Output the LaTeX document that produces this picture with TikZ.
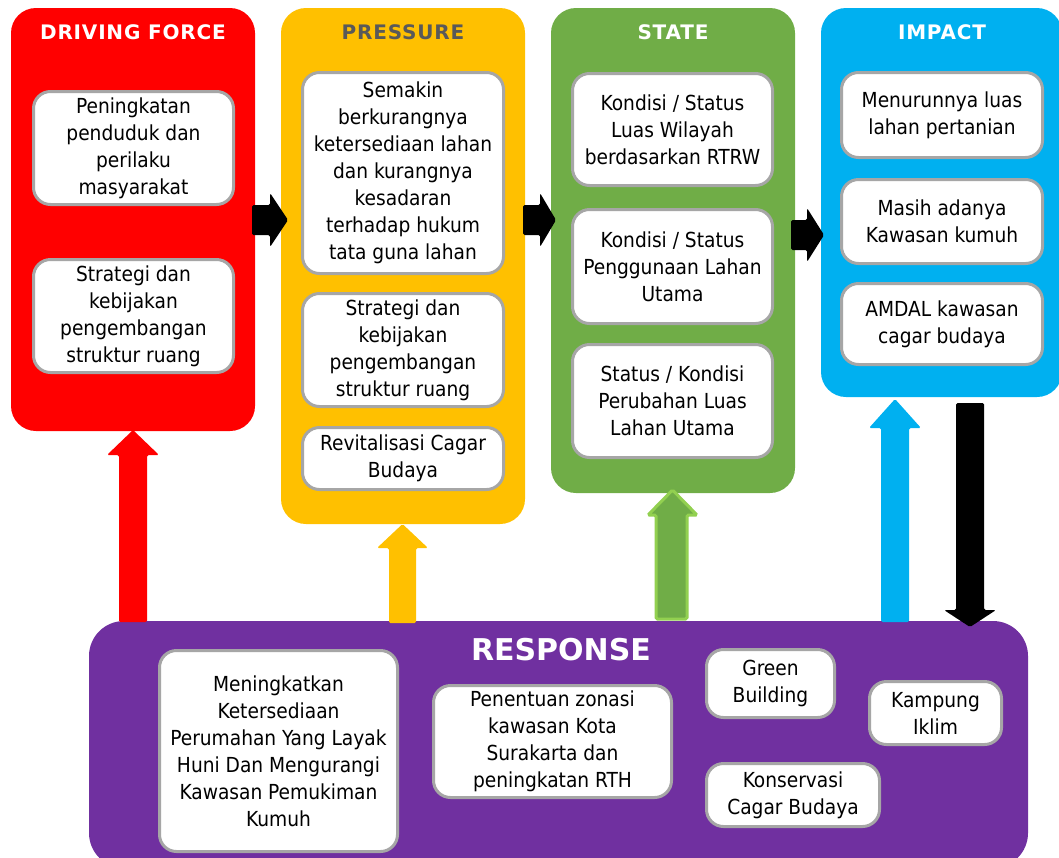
\documentclass[tikz,border=0pt]{standalone}
\usepackage{fontspec}
\setmainfont{DejaVu Sans Condensed}
\newfontfamily\headfont{DejaVu Sans}[LetterSpace=4]
\newfontfamily\respfont{DejaVu Sans}
\definecolor{cred}{HTML}{FF0000}
\definecolor{cyel}{HTML}{FFC000}
\definecolor{cgrn}{HTML}{70AD47}
\definecolor{cgrnl}{HTML}{92D050}
\definecolor{cblu}{HTML}{00B0F0}
\definecolor{cpur}{HTML}{7030A0}
\definecolor{boxgray}{HTML}{A6A6A6}
\definecolor{hgray}{HTML}{595959}
\tikzset{
  panel/.style={rounded corners=25pt},
  ibox/.style={draw=boxgray, line width=3pt, fill=white, rounded corners=17pt, align=center, inner sep=0pt, font=\fontsize{20.7}{27}\selectfont},
  hdr/.style={font=\headfont\bfseries\fontsize{20}{24}\selectfont, text=white, inner sep=0pt},
  blockarrow/.style={rounded corners=1.5pt}
}
\begin{document}
\begin{tikzpicture}[x=1pt,y=-1pt]
\useasboundingbox (0,0) rectangle (1059,857);
% panels
\fill[cred, panel] (11,8) rectangle (255,431);
\fill[cyel, panel] (281,8) rectangle (525,524);
\fill[cgrn, panel] (551,8) rectangle (795,493);
\fill[cblu, panel] (821,8) rectangle (1062,397);
\fill[cpur, rounded corners=35pt] (89,621) rectangle (1028,868);
% headers
\node[hdr] (hdf) at (133,32) {DRIVING FORCE};
\node[hdr, text=hgray] (hpr) at (403,32) {PRESSURE};
\node[hdr] (hst) at (673,32) {STATE};
\node[hdr] (him) at (942,32) {IMPACT};
\node[font=\respfont\bfseries\fontsize{30}{34}\selectfont, text=white, inner sep=0pt] (hre) at (561,650) {RESPONSE};
% horizontal arrows
\fill[black, blockarrow] (252,205) -- (270,205) -- (270,193) -- (288,220) -- (270,247) -- (270,235) -- (252,235) -- cycle;
\fill[black, blockarrow] (523,205) -- (540,205) -- (540,193) -- (556,220) -- (540,247) -- (540,235) -- (523,235) -- cycle;
\fill[black, blockarrow] (791,220) -- (807,220) -- (807,208) -- (824,235) -- (807,262) -- (807,250) -- (791,250) -- cycle;
% vertical arrows
\fill[cred, blockarrow] (119,622) -- (119,455) -- (107,455) -- (133,430) -- (159,455) -- (147,455) -- (147,622) -- cycle;
\fill[cyel, blockarrow] (389,623) -- (389,548) -- (377,548) -- (402.5,524) -- (428,548) -- (416,548) -- (416,623) -- cycle;
\filldraw[fill=cgrn, draw=cgrnl, line width=3pt, blockarrow] (656,619) -- (656,515) -- (648,515) -- (672.5,490) -- (697,515) -- (687,515) -- (687,619) -- cycle;
\fill[cblu, blockarrow] (881,622) -- (881,428) -- (869,428) -- (895,399) -- (921,428) -- (909,428) -- (909,622) -- cycle;
\fill[black, blockarrow] (956,403) -- (956,610) -- (944,610) -- (970,627) -- (996,610) -- (984,610) -- (984,403) -- cycle;
% driving force boxes
\node[ibox, minimum width=200pt, minimum height=113pt] (d1) at (133.5,148) {Peningkatan\\penduduk dan\\perilaku\\masyarakat};
\node[ibox, minimum width=200pt, minimum height=113pt] (d2) at (133.5,316) {Strategi dan\\kebijakan\\pengembangan\\struktur ruang};
% pressure boxes
\node[ibox, minimum width=201pt, minimum height=201pt] (p1) at (403,173) {Semakin\\berkurangnya\\ketersediaan lahan\\dan kurangnya\\kesadaran\\terhadap hukum\\tata guna lahan};
\node[ibox, minimum width=201pt, minimum height=113pt] (p2) at (403,350) {Strategi dan\\kebijakan\\pengembangan\\struktur ruang};
\node[ibox, minimum width=201pt, minimum height=62pt] (p3) at (403,458.5) {Revitalisasi Cagar\\Budaya};
% state boxes
\node[ibox, minimum width=200pt, minimum height=112pt] (s1) at (672.5,129.5) {Kondisi / Status\\Luas Wilayah\\berdasarkan RTRW};
\node[ibox, minimum width=200pt, minimum height=114pt] (s2) at (672.5,266.5) {Kondisi / Status\\Penggunaan Lahan\\Utama};
\node[ibox, minimum width=200pt, minimum height=113pt] (s3) at (672.5,401) {Status / Kondisi\\Perubahan Luas\\Lahan Utama};
% impact boxes
\node[ibox, minimum width=201pt, minimum height=85pt] (i1) at (942,115) {Menurunnya luas\\lahan pertanian};
\node[ibox, minimum width=201pt, minimum height=84pt] (i2) at (942,221.5) {Masih adanya\\Kawasan kumuh};
\node[ibox, minimum width=201pt, minimum height=81pt] (i3) at (942,324) {AMDAL kawasan\\cagar budaya};
% response boxes
\node[ibox, minimum width=238pt, minimum height=201pt] (r1) at (278.5,751) {Meningkatkan\\Ketersediaan\\Perumahan Yang Layak\\Huni Dan Mengurangi\\Kawasan Pemukiman\\Kumuh};
\node[ibox, minimum width=238pt, minimum height=112pt] (r2) at (552.5,741.5) {Penentuan zonasi\\kawasan Kota\\Surakarta dan\\peningkatan RTH};
\node[ibox, minimum width=128pt, minimum height=68pt] (r3) at (770.5,683.5) {Green\\Building};
\node[ibox, minimum width=132pt, minimum height=63pt] (r4) at (935.5,713) {Kampung\\Iklim};
\node[ibox, minimum width=173pt, minimum height=63pt] (r5) at (793,795) {Konservasi\\Cagar Budaya};
\end{tikzpicture}
\end{document}
